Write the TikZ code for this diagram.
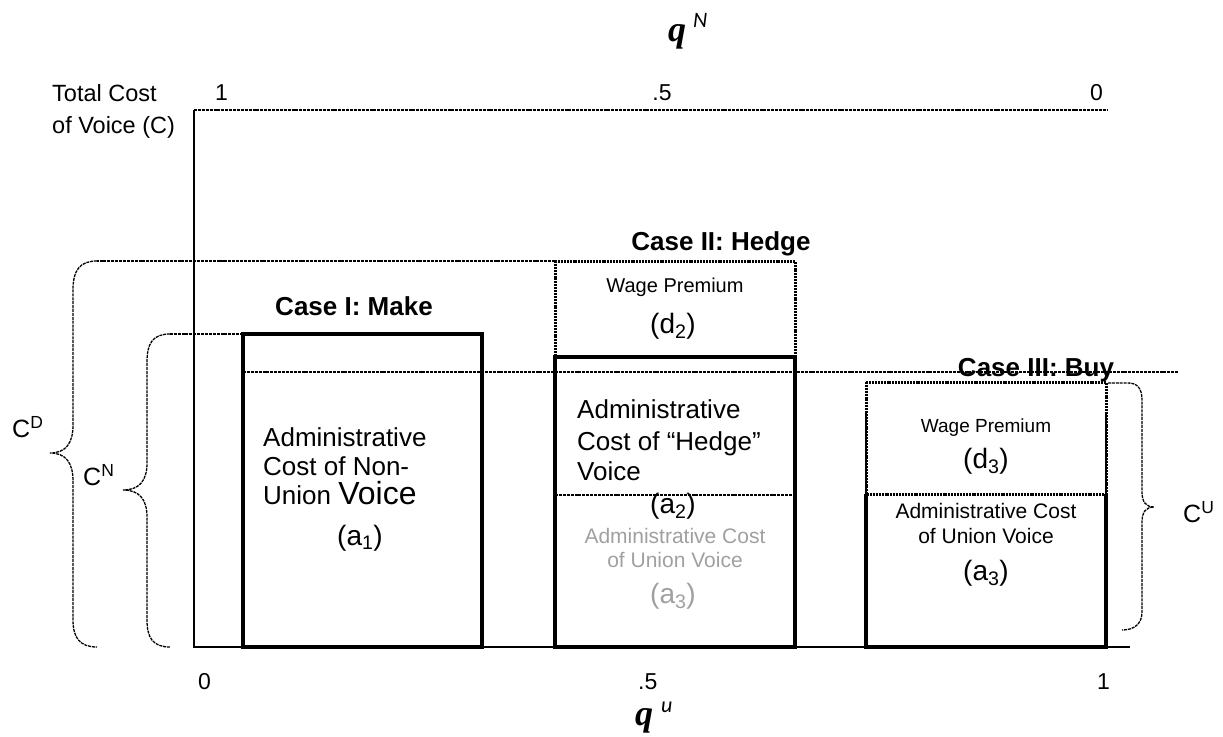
\documentclass[tikz,border=0pt]{standalone}
\usepackage{fontspec}
\setmainfont{Liberation Sans}
\newfontfamily\qserif{Liberation Serif}
\newfontfamily\calif{Carlito}
\newcommand\fsz[1]{\fontsize{#1bp}{#1bp}\selectfont}
\definecolor{graytext}{RGB}{160,160,160}
\begin{document}
\begin{tikzpicture}[x=1bp,y=-1bp,
  axis/.style={line width=1.4bp,black},
  fine/.style={line width=1.3bp,dash pattern=on 3bp off 0.9bp},
  boxline/.style={line width=3.2bp,line join=miter},
  dotbox/.style={line width=3bp,dash pattern=on 2bp off 0.9bp},
  lbl/.style={inner sep=0pt,anchor=base},
  lbll/.style={inner sep=0pt,anchor=base west},
  title/.style={lbl,font=\bfseries\fsz{26}}]
\useasboundingbox (0,0) rectangle (1223,737);

% axes
\coordinate (Top) at (194,110);
\coordinate (O) at (194,647);
\coordinate (TopR) at (1107,110);
\coordinate (BotR) at (1130,647);
\draw[axis] (Top) -- (O) -- (BotR);
\draw[fine,line width=1.7bp] (Top) -- (TopR);

% axis labels
\node[lbll,font=\fsz{23.5}] (tc1) at (52,102) {Total Cost};
\node[lbll,font=\fsz{23.5}] (tc2) at (52,133) {of Voice (C)};
\node[lbll,font=\fsz{23}] (t1) at (215,101) {1};
\node[lbl,font=\fsz{23}] (t5) at (662,101) {.5};
\node[lbll,font=\fsz{23}] (t0) at (1090,101) {0};
\node[lbll,font=\fsz{23}] (b0) at (198,689) {0};
\node[lbll,font=\fsz{23}] (b5) at (638,689) {.5};
\node[lbll,font=\fsz{23}] (b1) at (1097,689) {1};
\node[lbll] (qN) at (668,42) {{\qserif\bfseries\itshape\fsz{36}q}\hspace{7bp}\raisebox{14bp}{\calif\itshape\fsz{22}N}};
\node[lbll] (qU) at (635,725) {{\qserif\bfseries\itshape\fsz{36}q}\hspace{8bp}\raisebox{13bp}{\calif\itshape\fsz{22}u}};

% reference levels
\coordinate (hA) at (243,372);
\coordinate (hB) at (1178,372);
\draw[fine] (hA) -- (hB);

% Case I
\coordinate (c1a) at (243,334);
\coordinate (c1b) at (482,647);
\draw[boxline] (c1a) rectangle (c1b);
\node[title] (case1) at (354,315) {Case I: Make};
\node[lbll,font=\fsz{26}] (a1l1) at (263,446) {Administrative};
\node[lbll,font=\fsz{26}] (a1l2) at (263,475) {Cost of Non-};
\node[lbll,font=\fsz{26}] (a1l3) at (263,504) {Union {\fsz{32}Voice}};
\node[lbl,font=\fsz{28}] (a1) at (360,545) {(a\textsubscript{1})};

% Case II
\coordinate (c2a) at (555,261);
\coordinate (c2m) at (795,357);
\coordinate (c2s) at (555,357);
\coordinate (c2b) at (795,647);
\draw[dotbox] (c2a) rectangle (c2m);
\draw[boxline] (c2s) rectangle (c2b);
\draw[fine] (555,495) -- (795,495);
\node[title] (case2) at (721,250) {Case II: Hedge};
\node[lbl,font=\fsz{20}] (wp2) at (675,292) {Wage Premium};
\node[lbl,font=\fsz{28}] (d2) at (673,333) {(d\textsubscript{2})};
\node[lbll,font=\fsz{26}] (a2l1) at (577,418) {Administrative};
\node[lbll,font=\fsz{26}] (a2l2) at (577,450) {Cost of “Hedge”};
\node[lbll,font=\fsz{26}] (a2l3) at (577,480) {Voice};
\node[lbl,font=\fsz{28}] (a2) at (673,513) {(a\textsubscript{2})};
\node[lbl,font=\fsz{21},text=graytext] (g1) at (675,543) {Administrative Cost};
\node[lbl,font=\fsz{21},text=graytext] (g2) at (675,567) {of Union Voice};
\node[lbl,font=\fsz{28},text=graytext] (g3) at (673,603) {(a\textsubscript{3})};

% Case III
\coordinate (c3a) at (866,382);
\coordinate (c3m) at (1106,494);
\draw[line width=1.8bp] (866,412) -- (866,494) (1106,412) -- (1106,494);
\draw[dotbox] (c3a) rectangle (c3m);
\draw[boxline] (866,494) -- (866,647) -- (1106,647) -- (1106,494);
\node[title] (case3) at (1036,376) {Case III: Buy};
\node[lbl,font=\fsz{19}] (wp3) at (986,432) {Wage Premium};
\node[lbl,font=\fsz{28}] (d3) at (986,468) {(d\textsubscript{3})};
\node[lbl,font=\fsz{21}] (u1) at (986,518) {Administrative Cost};
\node[lbl,font=\fsz{21}] (u2) at (986,543) {of Union Voice};
\node[lbl,font=\fsz{28}] (a3) at (986,580) {(a\textsubscript{3})};

% brace C^D
\coordinate (cdT) at (97,261);
\coordinate (cdB) at (97,647);
\coordinate (cdTip) at (50,453);
\draw[fine] (c2a) -- (cdT);
\draw[fine] (cdT) .. controls (80,261) and (73,270) .. (73,290) -- (73,425)
  .. controls (73,443) and (66,453) .. (cdTip)
  .. controls (66,453) and (73,463) .. (73,481) -- (73,620)
  .. controls (73,638) and (80,647) .. (cdB);
\node[lbll,font=\fsz{25}] (CD) at (12,437) {C\textsuperscript{D}};

% brace C^N
\coordinate (cnT) at (170,334);
\coordinate (cnB) at (170,647);
\coordinate (cnTip) at (123,490);
\draw[fine] (c1a) -- (cnT);
\draw[fine] (cnT) .. controls (153,334) and (147,343) .. (147,362) -- (147,463)
  .. controls (147,481) and (139,490) .. (cnTip)
  .. controls (139,490) and (147,499) .. (147,517) -- (147,620)
  .. controls (147,638) and (153,647) .. (cnB);
\node[lbll,font=\fsz{25}] (CN) at (83,485) {C\textsuperscript{N}};

% brace C^U
\coordinate (cuT) at (1108,383);
\coordinate (cuB) at (1122,630);
\coordinate (cuTip) at (1154,507);
\draw[fine] (cuT) -- (1128,383) .. controls (1137,383) and (1142,388) .. (1142,400) -- (1142,492)
  .. controls (1142,502) and (1146,507) .. (cuTip)
  .. controls (1146,507) and (1142,512) .. (1142,522) -- (1142,612)
  .. controls (1142,624) and (1134,630) .. (cuB);
\node[lbll,font=\fsz{25}] (CU) at (1183,522) {C\textsuperscript{U}};
\end{tikzpicture}
\end{document}
